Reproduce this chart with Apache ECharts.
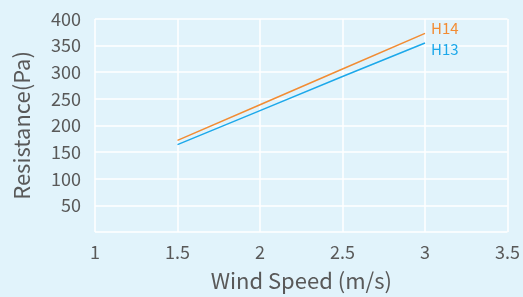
<!DOCTYPE html>
<html>
<head>
<meta charset="utf-8">
<script src="https://cdn.jsdelivr.net/npm/echarts@6/dist/echarts.min.js"></script>
<style>
  html, body { margin: 0; padding: 0; background: #e1f3fb; }
  #chart { width: 523px; height: 297px; }
</style>
</head>
<body>
<div id="chart"></div>
<script>
// wind speed (m/s) and resistance (Pa) per filter class
const windSpeed = [1.5, 2, 2.5, 3];
const h14 = [172, 239, 306, 373];
const h13 = [164, 228, 292, 355];

const textColor = '#595959';
const font = '"Noto Sans CJK SC", "Noto Sans", sans-serif';

const chart = echarts.init(document.getElementById('chart'));

const pairs = vals => windSpeed.map((x, i) => [x, vals[i]]);

chart.setOption({
  backgroundColor: '#e1f3fb',
  animation: false,
  textStyle: { fontFamily: font },
  grid: { left: 95, right: 11, top: 19, bottom: 64, containLabel: false },
  xAxis: {
    type: 'value',
    min: 1,
    max: 3.5,
    interval: 0.5,
    name: 'Wind Speed (m/s)',
    nameLocation: 'middle',
    nameGap: 38,
    nameTextStyle: { color: textColor, fontSize: 22, fontFamily: font },
    axisLine: { show: false },
    axisTick: { show: false },
    axisLabel: { color: textColor, fontSize: 18, margin: 11, fontFamily: font },
    splitLine: { show: true, lineStyle: { color: '#ffffff', width: 1.5 } }
  },
  yAxis: {
    type: 'value',
    min: 0,
    max: 400,
    interval: 50,
    name: 'Resistance(Pa)',
    nameLocation: 'middle',
    nameGap: 62,
    nameTextStyle: { color: textColor, fontSize: 22, fontFamily: font },
    axisLine: { show: false },
    axisTick: { show: false },
    axisLabel: {
      color: textColor,
      fontSize: 18,
      margin: 14,
      fontFamily: font,
      formatter: v => (v === 0 ? '' : v)
    },
    splitLine: { show: true, lineStyle: { color: '#ffffff', width: 1.5 } }
  },
  series: [
    {
      name: 'H14',
      type: 'line',
      data: pairs(h14),
      symbol: 'none',
      lineStyle: { color: '#f28c33', width: 1.5 },
      endLabel: {
        show: true,
        formatter: 'H14',
        color: '#f28c33',
        fontSize: 15,
        fontFamily: font,
        distance: 6,
        offset: [0, -5]
      }
    },
    {
      name: 'H13',
      type: 'line',
      data: pairs(h13),
      symbol: 'none',
      lineStyle: { color: '#1ca8ea', width: 1.5 },
      endLabel: {
        show: true,
        formatter: 'H13',
        color: '#1ca8ea',
        fontSize: 15,
        fontFamily: font,
        distance: 6,
        offset: [0, 6]
      }
    }
  ]
});
</script>
</body>
</html>
